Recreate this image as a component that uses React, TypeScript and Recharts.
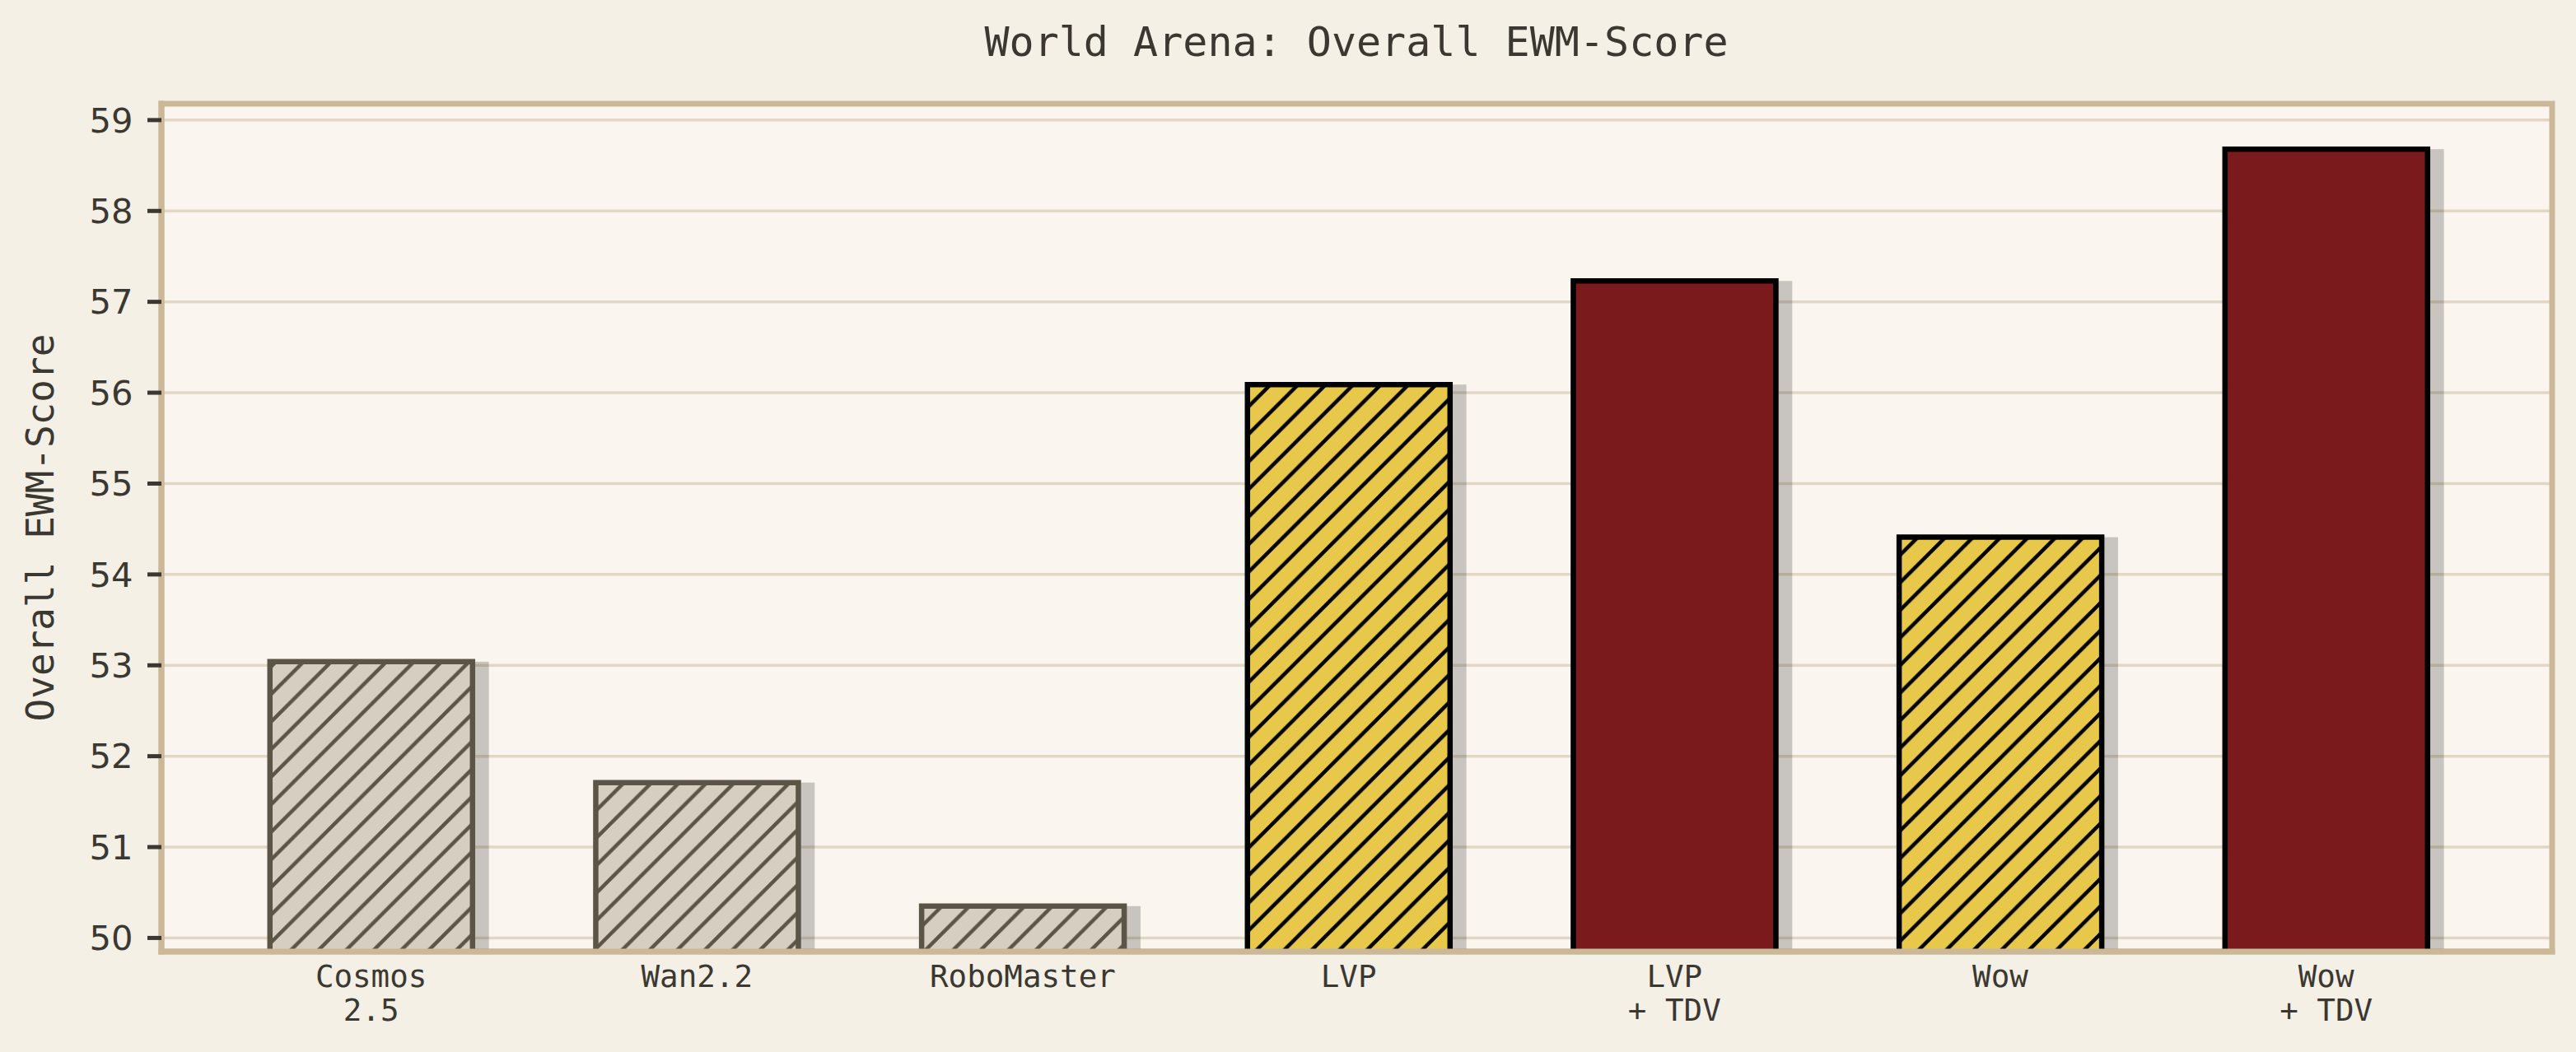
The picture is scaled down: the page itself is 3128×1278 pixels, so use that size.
import React from "react";
import { BarChart, Bar, XAxis, YAxis, CartesianGrid, ReferenceArea } from "recharts";

const categories = ["Cosmos\n2.5", "Wan2.2", "RoboMaster", "LVP", "LVP\n+ TDV", "Wow", "Wow\n+ TDV"];
const scores = [53.04, 51.71, 50.35, 56.09, 57.23, 54.41, 58.68];
const groups = ["baseline", "baseline", "baseline", "ours", "tdv", "ours", "tdv"];
const yTicks = [50, 51, 52, 53, 54, 55, 56, 57, 58, 59];
const xTicks = categories.map((_, i) => i);

const data = categories.map((name, i) => ({ idx: i, name, score: scores[i], group: groups[i] }));

// axis limits like matplotlib: bars of width 0.62, shadow shifted 0.05, 5% margins
const BAR_W = 0.62;
const SHADOW_DX = 0.05;
const xSpan = categories.length - 1 + BAR_W + SHADOW_DX;
const xLo = -BAR_W / 2 - 0.05 * xSpan;
const xHi = categories.length - 1 + BAR_W / 2 + SHADOW_DX + 0.05 * xSpan;
const yMin = Math.min(...scores) - 0.5;
const yMax = Math.max(...scores) + 0.5;

const BG = "#f4f0e5";
const PLOT_BG = "#faf6ef";
const FRAME = "#cbb898";
const GRID = "#e2d7c4";
const TEXT = "#3b3731";
const MONO = "'DejaVu Sans Mono', monospace";

const groupStyle: Record<string, { fill: string; edge: string; hatch: boolean }> = {
  baseline: { fill: "#d6cec0", edge: "#5b5548", hatch: true },
  ours: { fill: "#e8c84b", edge: "#000000", hatch: true },
  tdv: { fill: "#7a1a1c", edge: "#000000", hatch: false },
};

const P = 33.5;

const HatchPattern = ({ id, color }: { id: string; color: string }) => (
  <pattern id={id} patternUnits="userSpaceOnUse" width={P} height={P}>
    <path
      d={`M0,${P} l${P},${-P} M${-P / 4},${P / 4} l${P / 2},${-P / 2} M${(3 * P) / 4},${(5 * P) / 4} l${P / 2},${-P / 2}`}
      stroke={color}
      strokeWidth={4.5}
      strokeLinecap="square"
    />
  </pattern>
);

const BarShape = (props: any) => {
  const { x, y, width, height, index } = props;
  const g = groups[index];
  const st = groupStyle[g];
  const dx = (width * SHADOW_DX) / BAR_W;
  return (
    <g>
      <rect x={x + dx} y={y} width={width} height={height} fill="#000" fillOpacity={0.2} />
      <rect x={x} y={y} width={width} height={height} fill={st.fill} />
      {st.hatch && <rect x={x} y={y} width={width} height={height} fill={`url(#hatch-${g})`} />}
      <path
        d={`M${x},${y + height}V${y}H${x + width}V${y + height}`}
        fill="none"
        stroke={st.edge}
        strokeWidth={6.5}
      />
    </g>
  );
};

const CategoryTick = (props: any) => {
  const { x, y, payload } = props;
  const lines = String(categories[payload.value] ?? "").split("\n");
  return (
    <text x={x} y={y} textAnchor="middle" fill={TEXT} fontFamily={MONO} fontSize={37.5}>
      {lines.map((l, i) => (
        <tspan key={i} x={x} dy={i === 0 ? 43 : 41}>
          {l}
        </tspan>
      ))}
    </text>
  );
};

const YTitle = (props: any) => {
  const vb = props.viewBox || { x: 0, y: 126, width: 196, height: 1030 };
  const cx = vb.x + 65;
  const cy = vb.y + vb.height / 2;
  return (
    <text
      x={cx}
      y={cy}
      transform={`rotate(-90, ${cx}, ${cy})`}
      textAnchor="middle"
      fill={TEXT}
      fontFamily={MONO}
      fontSize={46}
    >
      Overall EWM-Score
    </text>
  );
};

export default function App() {
  return (
    <div style={{ position: "absolute", left: 0, top: 0, width: 3128, height: 1278, background: BG }}>
      <div
        style={{
          position: "absolute",
          top: 26,
          left: 1647,
          transform: "translateX(-50%)",
          fontFamily: MONO,
          fontSize: 50,
          lineHeight: "50px",
          color: TEXT,
          whiteSpace: "nowrap",
        }}
      >
        World Arena: Overall EWM-Score
      </div>
      <BarChart
        width={3128}
        height={1278}
        data={data}
        margin={{ top: 126, right: 29, bottom: 22, left: 0 }}
        style={{ position: "absolute", left: 0, top: 0 }}
      >
        <defs>
          <HatchPattern id="hatch-baseline" color={groupStyle.baseline.edge} />
          <HatchPattern id="hatch-ours" color={groupStyle.ours.edge} />
        </defs>
        <CartesianGrid vertical={false} stroke={GRID} strokeWidth={3.5} fill={PLOT_BG} fillOpacity={1} />
        <ReferenceArea
          x1={xLo}
          x2={xHi}
          y1={yMin}
          y2={yMax}
          fill="none"
          fillOpacity={0}
          stroke={FRAME}
          strokeWidth={7}
          ifOverflow="visible"
        />
        <XAxis
          dataKey="idx"
          type="number"
          domain={[xLo, xHi]}
          allowDataOverflow
          ticks={xTicks}
          interval={0}
          height={100}
          tickLine={false}
          tickSize={0}
          tickMargin={0}
          tick={<CategoryTick />}
          axisLine={{ stroke: FRAME, strokeWidth: 7, strokeLinecap: "square" }}
        />
        <YAxis
          type="number"
          domain={[yMin, yMax]}
          allowDataOverflow
          ticks={yTicks}
          interval={0}
          width={196}
          tickSize={17}
          tickMargin={17.5}
          tickLine={{ stroke: TEXT, strokeWidth: 5 }}
          tick={{ fill: TEXT, fontFamily: "'DejaVu Sans', sans-serif", fontSize: 41.7 }}
          axisLine={{ stroke: FRAME, strokeWidth: 7, strokeLinecap: "square" }}
          label={<YTitle />}
        />
        <Bar dataKey="score" barSize={246} shape={<BarShape />} isAnimationActive={false} />
      </BarChart>
    </div>
  );
}
